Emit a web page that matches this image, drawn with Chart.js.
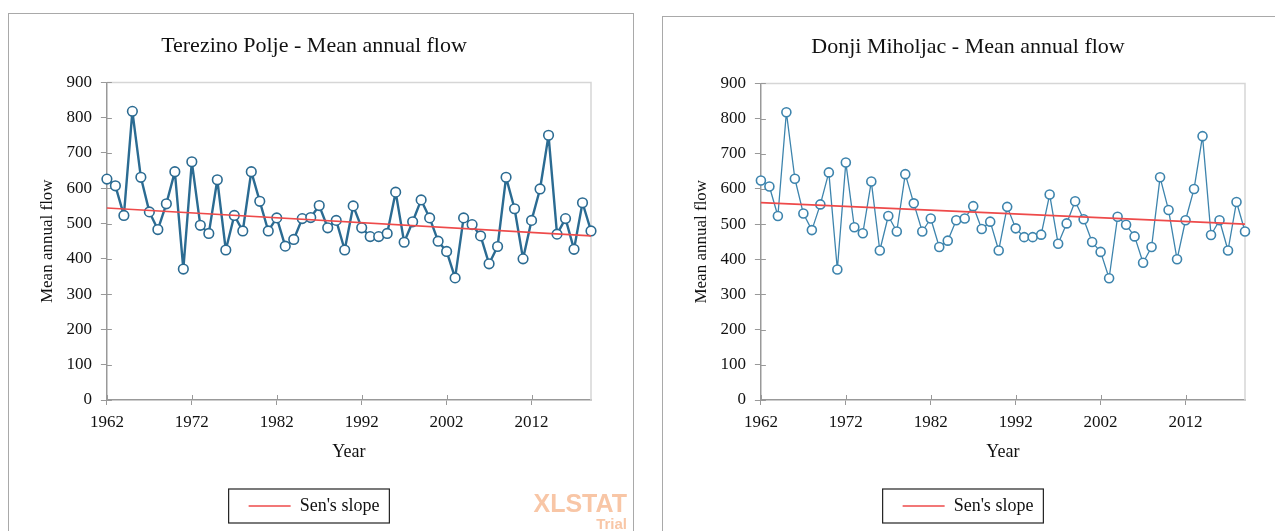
<!DOCTYPE html>
<html>
<head>
<meta charset="utf-8">
<script src="https://cdn.jsdelivr.net/npm/chart.js@4.4.0/dist/chart.umd.min.js"></script>
<style>
  html, body { margin: 0; padding: 0; background: #fff; overflow: hidden; }
  body { width: 1275px; height: 531px; position: relative; }
  .panel { position: absolute; border: 1px solid #a9a9a9; background: #fff; }
  #leftPanel { left: 8px; top: 13px; width: 624px; height: 530px; }
  #rightPanel { left: 662px; top: 16px; width: 640px; height: 530px; }
  canvas { position: absolute; left: 0; top: 0; }
  .watermark { position: absolute; left: 518px; top: 477px; width: 100px; text-align: right;
    font-family: "Liberation Sans", Arial, sans-serif; font-weight: bold; color: #f8c6a6; }
  .watermark .big { font-size: 25px; line-height: 24px; }
  .watermark .small { font-size: 15px; line-height: 17px; }
</style>
</head>
<body>
<div class="panel" id="leftPanel">
  <canvas id="terezino" width="624" height="518"></canvas>
  <div class="watermark"><div class="big">XLSTAT</div><div class="small">Trial</div></div>
</div>
<div class="panel" id="rightPanel">
  <canvas id="miholjac" width="624" height="515"></canvas>
</div>
<script>
'use strict';

const years = [1962, 1963, 1964, 1965, 1966, 1967, 1968, 1969, 1970, 1971,
    1972, 1973, 1974, 1975, 1976, 1977, 1978, 1979, 1980, 1981,
    1982, 1983, 1984, 1985, 1986, 1987, 1988, 1989, 1990, 1991,
    1992, 1993, 1994, 1995, 1996, 1997, 1998, 1999, 2000, 2001,
    2002, 2003, 2004, 2005, 2006, 2007, 2008, 2009, 2010, 2011,
    2012, 2013, 2014, 2015, 2016, 2017, 2018, 2019];

const terezinoFlow = [626, 607, 523, 818, 631, 533, 483, 556, 647, 371,
    675, 495, 472, 624, 425, 523, 479, 647, 563, 479,
    516, 436, 455, 514, 517, 551, 488, 509, 425, 550,
    488, 463, 463, 472, 589, 447, 505, 567, 516, 450,
    421, 346, 516, 497, 465, 386, 435, 631, 542, 400,
    509, 598, 750, 470, 514, 427, 559, 479];

const miholjacFlow = [624, 607, 523, 818, 629, 530, 483, 556, 647, 371,
    675, 491, 474, 621, 425, 523, 479, 642, 559, 479,
    516, 435, 453, 511, 516, 551, 486, 507, 425, 549,
    488, 463, 463, 470, 584, 444, 502, 565, 514, 449,
    421, 346, 521, 498, 465, 390, 435, 633, 540, 400,
    511, 600, 750, 469, 511, 425, 563, 479];

// Sen's slope line, value at first and last year
const senYears = [1962, 2019];
const terezinoSen = [544, 465];
const miholjacSen = [561, 500];

const xTickYears = [1962, 1972, 1982, 1992, 2002, 2012];
const yTicks = [0, 100, 200, 300, 400, 500, 600, 700, 800, 900];

const serif = '"Liberation Serif", "Times New Roman", serif';

// light frame on top and right of the plot area, inner tick halves, box round the legend
const framePlugin = {
    id: 'frame',
    beforeDatasetsDraw(chart){
        const a = chart.chartArea;
        const ctx = chart.ctx;
        ctx.save();
        ctx.strokeStyle = '#d6d6d6';
        ctx.lineWidth = 1.5;
        ctx.beginPath();
        ctx.moveTo(a.left, a.top);
        ctx.lineTo(a.right, a.top);
        ctx.lineTo(a.right, a.bottom);
        ctx.stroke();
        ctx.strokeStyle = '#999';
        ctx.lineWidth = 1;
        ctx.beginPath();
        chart.scales.y.ticks.forEach(t => {
            const py = Math.round(chart.scales.y.getPixelForValue(t.value)) + 0.5;
            ctx.moveTo(a.left, py);
            ctx.lineTo(a.left + 5, py);
        });
        chart.scales.x.ticks.forEach(t => {
            const px = Math.round(chart.scales.x.getPixelForValue(t.value)) + 0.5;
            ctx.moveTo(px, a.bottom);
            ctx.lineTo(px, a.bottom - 5);
        });
        ctx.stroke();
        ctx.restore();
    },
    afterDraw(chart){
        const box = chart.legend.legendHitBoxes[0];
        if (!box) return;
        const ctx = chart.ctx;
        ctx.save();
        ctx.strokeStyle = '#222';
        ctx.lineWidth = 1.2;
        ctx.strokeRect(box.left - 20, box.top - 8, box.width + 30, box.height + 16);
        ctx.restore();
    }
};

function createGraph(chart, title, flow, sen, lineColor, lineWidth, pointRadius, padTop){
    const ctx = document.getElementById(chart).getContext('2d');
    new Chart(ctx, {
        type: 'line',
        data: {
            datasets: [{
                label: 'Mean annual flow',
                data: years.map((y, i) => ({x: y, y: flow[i]})),
                borderColor: lineColor,
                borderWidth: lineWidth,
                borderJoinStyle: 'round',
                pointRadius: pointRadius,
                pointBorderWidth: 1.6,
                pointBackgroundColor: '#fff',
                pointBorderColor: lineColor,
                tension: 0,
                clip: false,
                order: 1
            }, {
                label: "Sen's slope",
                data: senYears.map((y, i) => ({x: y, y: sen[i]})),
                borderColor: '#ee4a4a',
                backgroundColor: '#ee4a4a',
                borderWidth: 1.6,
                pointRadius: 0,
                clip: false,
                order: 0
            }]
        },
        options: {
            responsive: false,
            maintainAspectRatio: false,
            animation: false,
            layout: { padding: { left: 28, right: 42, top: padTop, bottom: 7 } },
            plugins: {
                tooltip: { enabled: false },
                title: {
                    display: true,
                    text: title,
                    color: '#111',
                    font: { family: serif, size: 22, weight: 'normal' },
                    padding: { top: 0, bottom: 23 }
                },
                legend: {
                    position: 'bottom',
                    labels: {
                        filter: item => item.text === "Sen's slope",
                        usePointStyle: true,
                        pointStyle: 'line',
                        pointStyleWidth: 42,
                        color: '#111',
                        font: { family: serif, size: 18 },
                        padding: 20
                    }
                }
            },
            scales: {
                x: {
                    type: 'linear',
                    min: years[0],
                    max: years[years.length - 1],
                    afterBuildTicks: axis => { axis.ticks = xTickYears.map(v => ({value: v})); },
                    ticks: {
                        callback: v => String(v),
                        color: '#111',
                        font: { family: serif, size: 17 },
                        maxRotation: 0,
                        padding: 7
                    },
                    grid: { drawOnChartArea: false, tickLength: 5, color: '#999' },
                    border: { color: '#999', width: 1.5 },
                    title: {
                        display: true,
                        text: 'Year',
                        color: '#111',
                        font: { family: serif, size: 18 },
                        padding: { top: 2, bottom: 14 }
                    }
                },
                y: {
                    min: 0,
                    max: 900,
                    afterBuildTicks: axis => { axis.ticks = yTicks.map(v => ({value: v})); },
                    ticks: {
                        color: '#111',
                        font: { family: serif, size: 17 },
                        padding: 9
                    },
                    grid: { drawOnChartArea: false, tickLength: 6, color: '#999' },
                    border: { color: '#999', width: 1.5 },
                    title: {
                        display: true,
                        text: 'Mean annual flow',
                        color: '#111',
                        font: { family: serif, size: 17 },
                        padding: { top: 0, bottom: 0 }
                    }
                }
            }
        },
        plugins: [framePlugin]
    });
}

createGraph('terezino', 'Terezino Polje - Mean annual flow', terezinoFlow, terezinoSen, '#2b6b92', 2.4, 4.8, 19);
createGraph('miholjac', 'Donji Miholjac - Mean annual flow', miholjacFlow, miholjacSen, '#3d84ad', 1.3, 4.5, 17);
</script>
</body>
</html>
